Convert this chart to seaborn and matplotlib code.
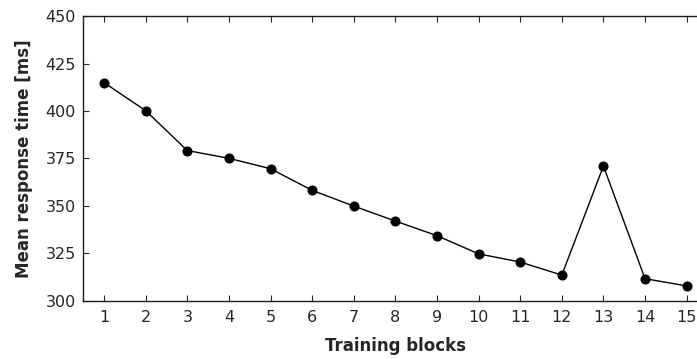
import matplotlib
matplotlib.use("Agg")
import matplotlib.pyplot as plt
import seaborn as sns
import pandas as pd

# Mean response time per training block
blocks = list(range(1, 16))
response_ms = [415.0, 400.2, 379.2, 375.1, 369.6, 358.2, 349.9, 342.0, 334.3,
               324.7, 320.4, 313.5, 371.0, 311.6, 307.8]
y_ticks = [300, 325, 350, 375, 400, 425, 450]

df = pd.DataFrame({"block": blocks, "rt": response_ms})

sns.set_style("ticks")
plt.rcParams["font.family"] = ["DejaVu Sans"]

fig = plt.figure(figsize=(6.97, 3.59), dpi=100)
ax = fig.add_axes([0.1195, 0.1624, 0.8955, 0.7922])

sns.lineplot(data=df, x="block", y="rt", ax=ax, color="black", linewidth=1.0,
             marker="o", markersize=6.5, markeredgecolor="black",
             markerfacecolor="black")

ax.set_xlim(0.5, 15.5)
ax.set_ylim(300, 450)
ax.set_xticks(blocks)
ax.set_yticks(y_ticks)
ax.tick_params(direction="in", length=4, width=0.8, colors="#262626",
               labelsize=11.5, labelcolor="#262626", top=True, right=False)
ax.tick_params(axis="x", pad=7)
ax.tick_params(axis="y", pad=5.5)
for side in ["left", "bottom", "top"]:
    ax.spines[side].set_visible(True)
    ax.spines[side].set_linewidth(1.0)
    ax.spines[side].set_color("#1a1a1a")
ax.spines["right"].set_visible(False)

ax.set_xlabel("Training blocks", fontsize=12, fontweight="bold",
              color="#262626", labelpad=8)
ax.set_ylabel("Mean response time [ms]", fontsize=12, fontweight="bold",
              color="#262626", labelpad=9)

fig.savefig("out.png", dpi=100)
